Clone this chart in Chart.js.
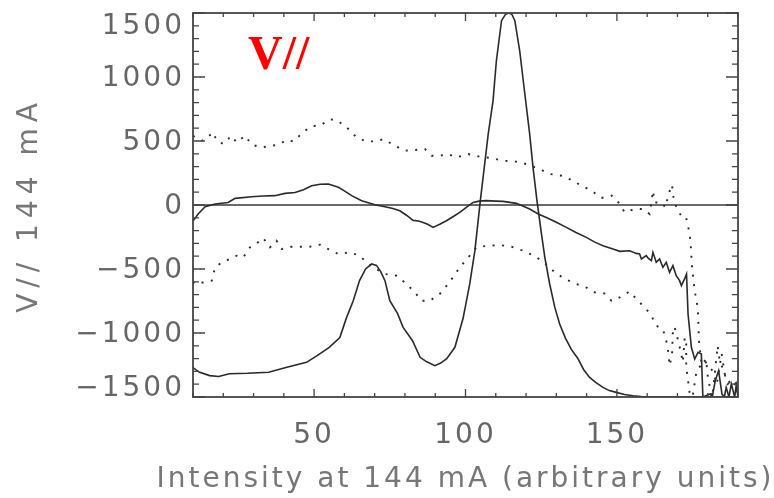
<!DOCTYPE html>
<html><head><meta charset="utf-8">
<script src="https://cdn.jsdelivr.net/npm/chart.js@4/dist/chart.umd.min.js"></script>
<style>html,body{margin:0;padding:0;background:#fff}#wrap{width:774px;height:498px;position:relative}</style>
</head><body><div id="wrap"><canvas id="c" width="774" height="498"></canvas></div>
<script>
// ---- data ----
const profileX = [10, 12, 15.5, 18.5, 22, 28, 35, 41, 47.5, 51, 55, 58.5, 60.7, 62.9, 65, 67, 69, 70.6, 72, 73.4, 75, 77.5, 79.4, 82.5, 85, 87.2, 89.9, 91.8, 93.8, 96.5, 99.2, 101.4, 103.1, 104.9, 106.2, 107.5, 109.1, 110.2, 111.9, 113.2, 114.3, 115.3, 116.3, 117.9, 119.6, 121.2, 122.3, 123.6, 125.1, 126.2, 127.8, 129.5, 131.1, 133, 135, 137, 139, 141, 143, 145.4, 147.5, 149.8, 152.5, 155.3, 158, 161, 165, 170, 175, 180, 185, 190];
const profileY = [-1270, -1305, -1333, -1340, -1318, -1315, -1307, -1268, -1229, -1177, -1112, -1035, -880, -750, -590, -500, -461, -472, -520, -591, -748, -845, -956, -1060, -1190, -1225, -1255, -1235, -1201, -1112, -885, -617, -357, 34, 294, 554, 815, 1127, 1440, 1490, 1500, 1490, 1440, 1205, 867, 554, 294, 34, -227, -409, -617, -800, -930, -1040, -1130, -1195, -1285, -1347, -1385, -1425, -1450, -1464, -1480, -1490, -1497, -1500, -1500, -1500, -1500, -1500, -1500, -1500];

const vParX = [10, 11.7, 14, 17.3, 21.6, 23.9, 29.4, 33, 37, 40.4, 43.7, 46.5, 49.2, 52, 54.7, 58, 60, 62.4, 65.7, 70.1, 73.4, 76, 78.3, 80.5, 82.7, 84.5, 86, 87.5, 89.3, 91.5, 93.7, 96, 98.1, 100.5, 102.5, 104.5, 106.9, 110, 112.4, 116.8, 121.2, 124, 126.7, 130, 133.3, 136.5, 139.9, 142.7, 145.4, 148.7, 151, 154.2, 156.4, 157.5, 158.1, 159.7, 160.5, 161.4, 161.9, 163, 164.1, 165.2, 166.3, 167.4, 168.5, 169.6, 170.7, 171.3, 172.4, 173, 173.5, 174.6, 175.7, 176.8, 177.9, 178.4, 180, 180.8, 181.5, 182.5, 183.6, 184.7, 185.5, 186.1, 187, 187.8, 188.9, 189.4, 190];
const vParY = [-125, -70, -13, 8, 20, 52, 65, 70, 73, 91, 98, 120, 151, 162, 164, 138, 110, 73, 34, 2, -13, -28, -45, -80, -120, -125, -136, -150, -175, -150, -123, -90, -58, -15, 20, 30, 34, 30, 28, 13, -31, -70, -97, -135, -175, -215, -253, -290, -318, -344, -362, -357, -378, -383, -422, -396, -420, -435, -370, -448, -422, -487, -448, -526, -474, -552, -591, -630, -575, -540, -852, -1112, -1203, -1151, -1164, -1500, -1485, -1477, -1500, -1372, -1294, -1477, -1500, -1425, -1500, -1398, -1500, -1412, -1500];

const upperX = [10, 11.3, 12.9, 14.5, 16.7, 17.8, 20, 22.7, 24.4, 27.2, 29.4, 32.7, 36, 38.2, 40.9, 43.1, 45.8, 48.6, 52.4, 55.2, 57.8, 61.3, 64, 67.3, 70.6, 72.8, 76.7, 80, 83.3, 86.6, 88.8, 91.5, 94.3, 97, 100.9, 104.7, 108.6, 112.4, 116.3, 120.1, 124.5, 127.8, 131.7, 135, 138.3, 141.6, 144.9, 148.3, 150.5, 152.6, 155.9, 158.6, 160.8, 161.4, 161.9, 162.5, 163.6, 164.8, 166, 167.1, 168.2, 168.7, 169.9, 171.5, 172.8, 173.7, 174.3, 174.8, 175.7, 176.5, 176.8, 177.1, 178, 179.5, 179.8, 180.2, 181.5, 183.3, 183.5, 184, 185.4, 186.6, 188.3, 190];
const upperY = [540, 525, 502, 525, 567, 502, 477, 541, 489, 541, 471, 450, 463, 471, 508, 497, 555, 611, 627, 670, 659, 594, 528, 497, 497, 515, 463, 424, 430, 437, 385, 385, 398, 372, 398, 377, 367, 346, 341, 320, 281, 242, 229, 195, 151, 112, 55, 73, 20, -58, -31, -31, -70, 20, 112, 20, 20, 20, -19, 86, 159, 59, -39, -91, -91, -188, -279, -482, -670, -774, -852, -1060, -1250, -1203, -1294, -1372, -1500, -1099, -1151, -1216, -1307, -1398, -1372, -1450];

const lowerX = [10, 10.6, 12.3, 13.4, 16.2, 17.3, 19.5, 22.2, 24.4, 26.6, 28.8, 31, 33.2, 35.4, 37.6, 39.3, 42.6, 45.8, 48.6, 51.9, 54.7, 58, 61.8, 65.1, 67.4, 70.5, 73.4, 77.2, 80.5, 83.3, 85.5, 88.2, 91.5, 94.3, 98.1, 100.9, 103.6, 107.5, 111.3, 115.2, 119.6, 123.5, 126.5, 129.5, 132.8, 136.6, 139.4, 142.7, 145.8, 148.2, 150.9, 154.2, 157, 159.7, 161.4, 163, 165.2, 166.3, 167, 167.4, 168.2, 168.5, 169, 170.2, 171, 171.8, 172.4, 172.9, 172.9, 173.5, 174, 175, 176.3, 179, 181.6, 183, 184.6, 185.7, 188, 190];
const lowerY = [-600, -615, -605, -605, -591, -488, -448, -422, -396, -409, -331, -300, -258, -331, -279, -344, -326, -326, -326, -310, -344, -383, -370, -396, -451, -500, -539, -552, -617, -683, -748, -748, -695, -617, -487, -409, -331, -318, -313, -326, -362, -409, -460, -526, -578, -617, -638, -683, -690, -748, -722, -675, -748, -813, -865, -943, -969, -1060, -1151, -1255, -1177, -982, -950, -1055, -1138, -1229, -1034, -1086, -1268, -1372, -1464, -1500, -1295, -1217, -1295, -1400, -1162, -1330, -1412, -1380];

const xMajorTicks = [50, 100, 150];
const yMajorTicks = [-1500, -1000, -500, 0, 500, 1000, 1500];
const xMinorStep = 10, yMinorStep = 100;
const xRange = [10, 190], yRange = [-1500, 1500];
const xTitle = 'Intensity at 144 mA (arbitrary units)';
const yTitle = 'V// 144 mA';
const panelLabel = 'V//';

// ---- chart ----
const pts = (xs, ys) => xs.map((x, i) => ({x, y: ys[i]}));
const FONT = '"DejaVu Sans", sans-serif';
const fmt = v => v < 0 ? '\u2212' + Math.abs(v) : String(v);

// wide tracking for axis titles, without squeezing the text into the plot width
function spacedTitle(scale, spacing) {
  if (scale._spacedTitle) return;
  scale._spacedTitle = true;
  const orig = scale.drawTitle.bind(scale);
  scale.drawTitle = function () {
    const ctx = this.ctx;
    const prev = ctx.letterSpacing;
    ctx.letterSpacing = spacing;
    const l = this.left, r = this.right, t = this.top, b = this.bottom;
    if (this.isHorizontal()) { this.left = l - 200; this.right = r + 200; }
    else { this.top = t - 200; this.bottom = b + 200; }
    orig();
    this.left = l; this.right = r; this.top = t; this.bottom = b;
    ctx.letterSpacing = prev;
  };
}

const decor = {
  id: 'decor',
  beforeDraw(chart) { chart.ctx.letterSpacing = '3px'; },
  beforeDatasetsDraw(chart) {
    const {ctx, chartArea: a, scales: {y}} = chart;
    const y0 = y.getPixelForValue(0);
    ctx.save();
    ctx.strokeStyle = '#3a3a3a'; ctx.lineWidth = 1.5;
    ctx.beginPath(); ctx.moveTo(a.left, y0); ctx.lineTo(a.right, y0); ctx.stroke();
    ctx.restore();
  },
  afterDraw(chart) {
    const {ctx, chartArea: a, scales: {x, y}} = chart;
    ctx.save();
    ctx.strokeStyle = '#444'; ctx.lineWidth = 1.8;
    ctx.strokeRect(a.left, a.top, a.right - a.left, a.bottom - a.top);
    ctx.lineWidth = 1.3;
    ctx.beginPath();
    for (let v = xRange[0]; v <= xRange[1] + 1e-9; v += xMinorStep) {
      const px = x.getPixelForValue(v);
      const len = xMajorTicks.includes(v) ? 8 : 4;
      ctx.moveTo(px, a.bottom); ctx.lineTo(px, a.bottom - len);
      ctx.moveTo(px, a.top); ctx.lineTo(px, a.top + len);
    }
    for (let v = yRange[0]; v <= yRange[1] + 1e-9; v += yMinorStep) {
      const py = y.getPixelForValue(v);
      const len = yMajorTicks.includes(v) ? 12 : 6;
      ctx.moveTo(a.left, py); ctx.lineTo(a.left + len, py);
      ctx.moveTo(a.right, py); ctx.lineTo(a.right - len, py);
    }
    ctx.stroke();
    // y tick labels, kept inside the axis span
    ctx.font = '28px ' + FONT;
    ctx.fillStyle = '#666';
    ctx.textAlign = 'right'; ctx.textBaseline = 'middle';
    ctx.letterSpacing = '3px';
    yMajorTicks.forEach(v => {
      let py = y.getPixelForValue(v);
      py = Math.min(Math.max(py, a.top + 12), a.bottom - 10);
      ctx.fillText(fmt(v), a.left - 8, py + 2);
    });
    // panel label
    ctx.letterSpacing = '0px';
    ctx.font = 'bold 48px "Liberation Serif", serif';
    ctx.fillStyle = '#ff0000';
    ctx.textAlign = 'left'; ctx.textBaseline = 'alphabetic';
    ctx.fillText(panelLabel, a.left + 55, a.top + 56);
    ctx.restore();
  }
};

const common = {borderColor: '#2a2a2a', pointRadius: 0, tension: 0, fill: false};
new Chart(document.getElementById('c'), {
  type: 'line',
  data: {
    datasets: [
      {...common, label: 'profile', data: pts(profileX, profileY), borderWidth: 1.6},
      {...common, label: 'V//', data: pts(vParX, vParY), borderWidth: 1.6},
      {...common, label: 'upper', data: pts(upperX, upperY), borderWidth: 1.9, borderDash: [2, 7.5]},
      {...common, label: 'lower', data: pts(lowerX, lowerY), borderWidth: 1.9, borderDash: [2, 7.5]}
    ]
  },
  options: {
    responsive: false, animation: false, devicePixelRatio: 1,
    layout: {padding: {left: 0, right: 36, top: 13, bottom: 0}},
    plugins: {legend: {display: false}, tooltip: {enabled: false}},
    scales: {
      x: {
        type: 'linear', min: xRange[0], max: xRange[1],
        afterBuildTicks: s => { s.ticks = xMajorTicks.map(v => ({value: v})); },
        afterFit: s => { s.height = 101; spacedTitle(s, '3px'); },
        grid: {display: false, drawTicks: false}, border: {display: false},
        ticks: {font: {family: FONT, size: 28}, color: '#666', padding: 22, maxRotation: 0,
                callback: v => fmt(v)},
        title: {display: true, text: xTitle, font: {family: FONT, size: 28}, color: '#777', padding: {top: 0, bottom: 1}}
      },
      y: {
        type: 'linear', min: yRange[0], max: yRange[1],
        afterFit: s => { s.width = 193; spacedTitle(s, '6px'); },
        grid: {display: false, drawTicks: false}, border: {display: false},
        ticks: {display: false, stepSize: 500},
        title: {display: true, text: yTitle, font: {family: FONT, size: 28}, color: '#777', padding: {top: 13, bottom: 0}}
      }
    }
  },
  plugins: [decor]
});
</script></body></html>
